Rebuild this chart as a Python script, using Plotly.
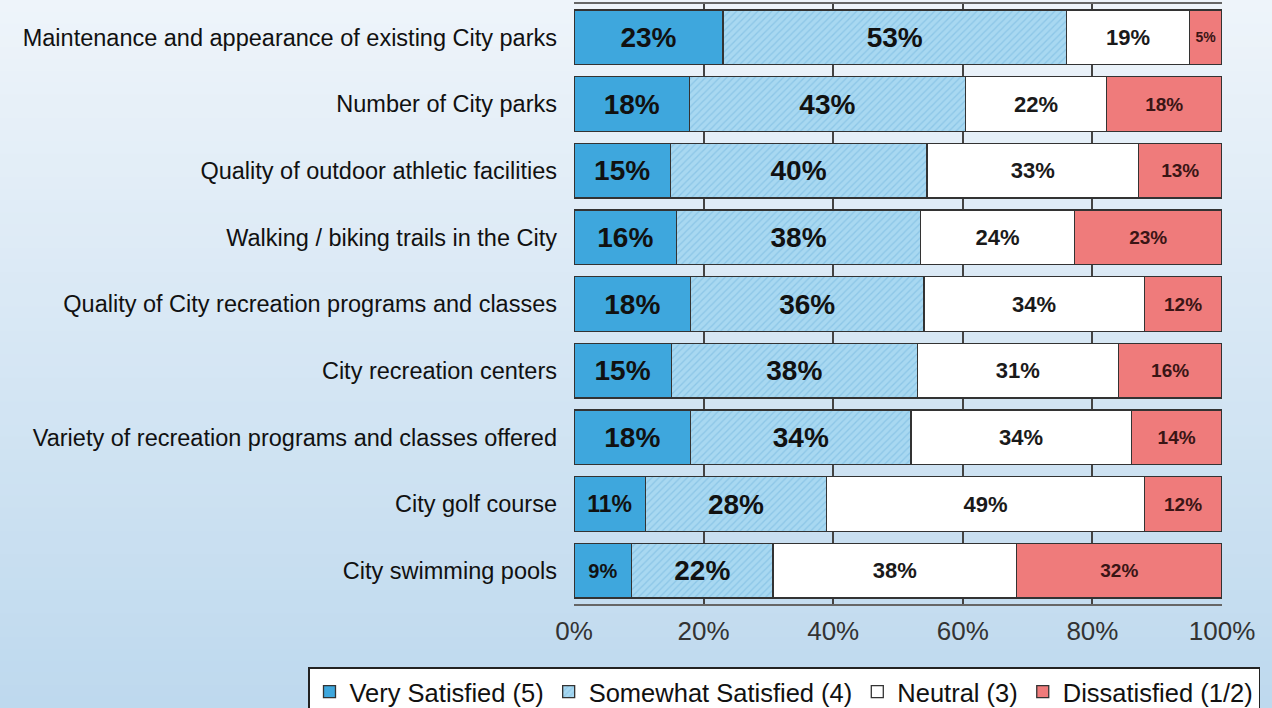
import plotly.graph_objects as go

categories = [
    "Maintenance and appearance of existing City parks",
    "Number of City parks",
    "Quality of outdoor athletic facilities",
    "Walking / biking trails in the City",
    "Quality of City recreation programs and classes",
    "City recreation centers",
    "Variety of recreation programs and classes offered",
    "City golf course",
    "City swimming pools",
]
very_satisfied = [23, 18, 15, 16, 18, 15, 18, 11, 9]
somewhat_satisfied = [53, 43, 40, 38, 36, 38, 34, 28, 22]
neutral = [19, 22, 33, 24, 34, 31, 34, 49, 38]
dissatisfied = [5, 18, 13, 23, 12, 16, 14, 12, 32]
series_names = ["Very Satisfied (5)", "Somewhat Satisfied (4)", "Neutral (3)", "Dissatisfied (1/2)"]
tick_vals = [0, 20, 40, 60, 80, 100]
tick_text = ["0%", "20%", "40%", "60%", "80%", "100%"]

all_series = [very_satisfied, somewhat_satisfied, neutral, dissatisfied]
row_sums = [sum(s[i] for s in all_series) for i in range(len(categories))]

fills = ["#3ea7dd", "#a8d8f1", "#ffffff", "#ef7b7b"]
text_colors = ["#111111", "#111111", "#1a1a1a", "#3a1515"]
base_sizes = [28, 28, 22, 19]

fig = go.Figure()

# gradient background via bands in paper coords
n_bands = 60
top = (238, 244, 250)
bot = (190, 217, 238)
W, H = 1272, 708
ml, mr, mt, mb = 574, 50, 4, 104
pw, ph = W - ml - mr, H - mt - mb
shapes = []
for k in range(n_bands):
    f = k / (n_bands - 1)
    c = tuple(int(round(top[j] + (bot[j] - top[j]) * f)) for j in range(3))
    y_top_px = H * k / n_bands
    y_bot_px = H * (k + 1) / n_bands + 1
    shapes.append(dict(
        type="rect", xref="paper", yref="paper", layer="below",
        x0=-ml / pw - 0.01, x1=(W - ml) / pw + 0.01,
        y0=(H - mb - y_bot_px) / ph, y1=(H - mb - y_top_px) / ph,
        fillcolor="rgb(%d,%d,%d)" % c, line=dict(width=0),
    ))

for idx, (name, vals) in enumerate(zip(series_names, all_series)):
    widths = [v / s * 100 for v, s in zip(vals, row_sums)]
    sizes = []
    for v in vals:
        sz = base_sizes[idx]
        if v < 12:
            sz = min(sz, 23)
        if v < 10:
            sz = min(sz, 20)
        if v < 8:
            sz = 14
        sizes.append(sz)
    marker = dict(color=fills[idx], line=dict(color="#333333", width=1.3))
    if idx == 1:
        marker["pattern"] = dict(shape="/", fgcolor="#8cc6e7", bgcolor="#a8d8f1",
                                 size=5, solidity=0.25, fillmode="replace")
    fig.add_trace(go.Bar(
        y=categories, x=widths, orientation="h", name=name,
        marker=marker,
        text=[f"{v}%" for v in vals], textposition="inside",
        insidetextanchor="middle", constraintext="none",
        textfont=dict(family="Liberation Sans", size=sizes, color=text_colors[idx], weight="bold"),
        hoverinfo="skip",
    ))

fig.update_layout(
    barmode="stack",
    bargap=0.18,
    width=W, height=H,
    margin=dict(l=ml, r=mr, t=mt, b=mb, autoexpand=False),
    paper_bgcolor="#e2edf7",
    plot_bgcolor="#ffffff",
    shapes=shapes,
    font=dict(family="Liberation Sans", color="#222222"),
    legend=dict(
        orientation="h",
        xref="paper", x=(308 - ml) / pw, xanchor="left",
        yref="paper", y=(H - mb - 667) / ph, yanchor="top",
        font=dict(size=25.5, color="#111111"),
        traceorder="normal",
        bgcolor="#ffffff", bordercolor="#222222", borderwidth=1.5,
        itemwidth=30, tracegroupgap=0,
    ),
    xaxis=dict(
        range=[0, 100], tickvals=tick_vals, ticktext=tick_text,
        tickfont=dict(size=26, color="#333333"),
        showgrid=True, gridcolor="#444444", gridwidth=1.5,
        showline=True, linecolor="#666666", linewidth=1.5, mirror=True,
        zeroline=False, ticks="", ticklabelstandoff=3, fixedrange=True,
    ),
    yaxis=dict(
        autorange="reversed",
        tickfont=dict(size=23.5, color="#111111"),
        showgrid=False, showline=False, ticks="",
        ticklabelstandoff=16, fixedrange=True,
    ),
)

fig.write_html("out.html", config={"displayModeBar": False},
               post_script="document.body.style.margin='0';document.body.style.overflow='hidden';")
